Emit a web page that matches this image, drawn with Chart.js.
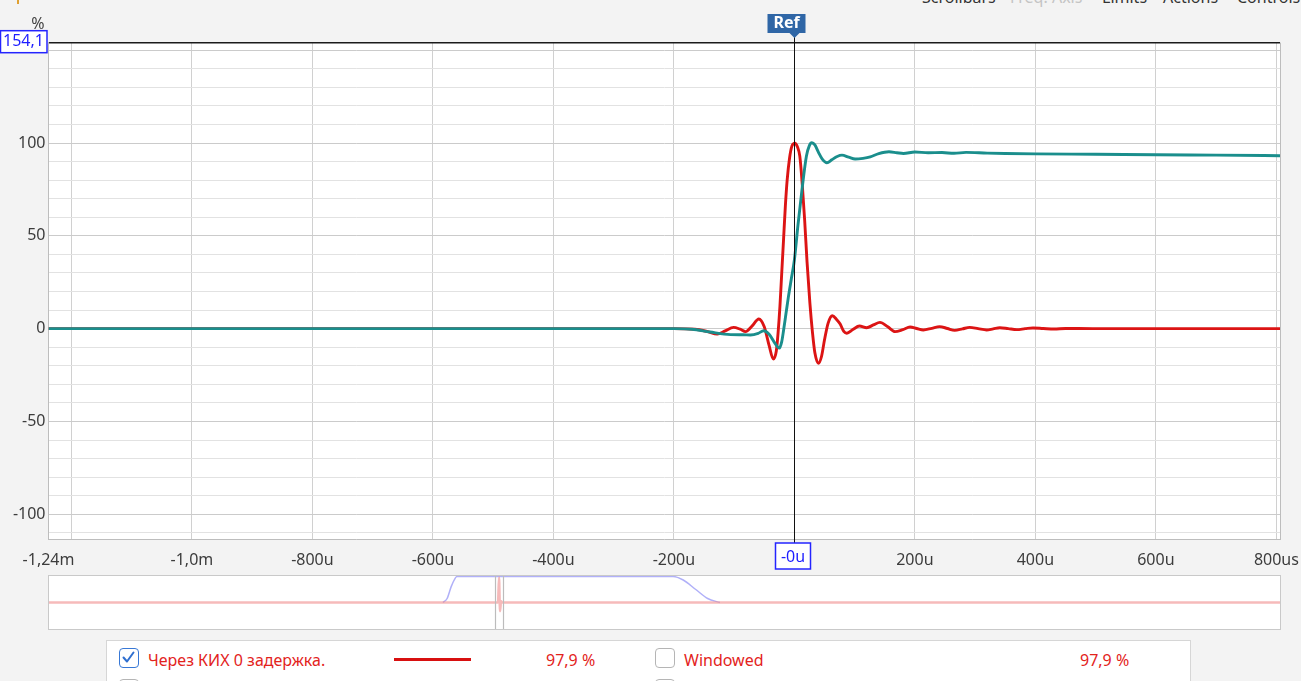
<!DOCTYPE html>
<html>
<head>
<meta charset="utf-8">
<script src="https://cdn.jsdelivr.net/npm/chart.js@4.4.1/dist/chart.umd.min.js"></script>
<style>
  body { margin: 0; width: 1301px; height: 681px; overflow: hidden; position: relative;
         background: #f3f3f3; font-family: "Noto Sans", sans-serif; }
  #menu span { position: absolute; top: -11px; font-size: 16px; line-height: 16px; color: #333; white-space: nowrap; }
  #wrap { position: absolute; left: 0; top: 0; width: 1301px; height: 681px; }
  #ov { position: absolute; left: 48px; top: 575px; width: 1233px; height: 55px; box-sizing: border-box;
        border: 1px solid #c9c9c9; background: #fff; }
  #legend { position: absolute; left: 106px; top: 640px; width: 1085px; height: 60px; box-sizing: border-box;
            border: 1px solid #d6d6d6; background: #fff; }
  #legend .t { position: absolute; font-size: 16px; line-height: 20px; color: #e3231c; white-space: nowrap; }
  .cb { position: absolute; width: 20px; height: 20px; box-sizing: border-box; border-radius: 4px;
        border: 1.5px solid #b5b5b5; background: #fff; }
  .cb.on { border-color: #3878d6; }
</style>
</head>
<body>
<div id="menu">
  <span style="left:922px">Scrollbars</span>
  <span style="left:1010px;color:#c4c4c4">Freq. Axis</span>
  <span style="left:1102px">Limits</span>
  <span style="left:1163px">Actions</span>
  <span style="left:1237px">Controls</span>
</div>
<div style="position:absolute;left:17px;top:0;width:2px;height:4px;background:#e0a030"></div>
<div id="wrap"><canvas id="main" width="1301" height="681"></canvas></div>
<div id="ov"><canvas id="ovc" width="1231" height="53"></canvas></div>
<div id="legend">
  <div class="cb on" style="left:12px;top:7px">
    <svg width="17" height="17" viewBox="0 0 17 17" style="position:absolute;left:0;top:0">
      <path d="M3.5 8.5 L7 12.5 L13.5 3.5" fill="none" stroke="#2f6fd0" stroke-width="2" stroke-linecap="round" stroke-linejoin="round"/>
    </svg>
  </div>
  <div class="t" style="left:41px;top:9px">Через КИХ 0 задержка.</div>
  <div style="position:absolute;left:287px;top:17px;width:77px;height:3px;background:#d81010"></div>
  <div class="t" style="left:439px;top:9px">97,9 %</div>
  <div class="cb" style="left:548px;top:7px"></div>
  <div class="t" style="left:577px;top:9px">Windowed</div>
  <div class="t" style="left:973px;top:9px">97,9 %</div>
  <div class="cb" style="left:12px;top:38px"></div>
  <div class="cb" style="left:548px;top:38px"></div>
</div>
<script>
// Impulse response (red), time in microseconds, level in %
const impulseTime = [-1238, -600, -300, -200, -165, -145, -128, -115, -101, -90, -81, -70, -59, -50, -42,
  -35, -30, -27, -24, -21, -18, -15, -12, -8, -4, 1, 5, 9, 13, 17, 21, 25.7, 30, 34, 40, 45, 50, 56, 63,
  70, 76, 82, 87, 97, 108, 120, 131, 142, 155, 167, 180, 192, 203, 214, 228, 241, 254, 266, 279, 291,
  305, 319, 330, 341, 355, 369, 383, 396, 413, 431, 450, 470, 520, 806];
const impulseLevel = [0, 0, 0, 0, -0.3, -1.5, -2.9, -1.2, 0.7, -0.3, -1.6, 1.5, 5.2, 1.0, -9,
  -16.4, -12, -2, 12, 30, 48, 66, 80, 92, 98.5, 100, 98, 93, 78, 58.7, 36, 13.9, -2, -13, -18.7, -15, -6, 3, 7,
  5, 2.5, -1.5, -2.5, -0.5, 1.4, 0.5, 2, 3.4, 1, -1.6, -0.5, 0.9, 0.1, -0.7, 0.2, 1.1, 0.1, -0.9, -0.1, 0.7,
  0, -0.7, -0.1, 0.5, 0, -0.5, 0, 0.4, 0.1, -0.2, 0.1, 0.1, 0, 0];

// Step response (teal)
const stepTime = [-1238, -600, -300, -200, -170, -140, -106, -85, -73, -60, -51, -42, -33, -25, -21, -18,
  -14, -10, -5, 0, 6, 13, 20, 25, 29, 34, 40, 46, 54, 62, 71, 79, 90, 101, 114, 126, 140, 157, 170, 181,
  200, 222, 245, 265, 285, 320, 350, 400, 500, 600, 700, 806];
const stepLevel = [0, 0, 0, 0, -0.3, -1.8, -3.2, -3.3, -3.4, -2.5, -1.1, -3, -7.5, -10.5, -7, -1,
  8, 17, 27, 37, 56, 76, 93, 98.8, 100.2, 99, 95, 91.5, 89.4, 91, 92.8, 93.5, 92.4, 91.4, 91.8, 92.6, 94.3, 95.3, 94.8, 94.4,
  95.2, 94.8, 94.9, 94.5, 95.0, 94.6, 94.4, 94.2, 94.0, 93.7, 93.5, 93.2];

// Axis ticks
const xTickValues = [-1238, -1200, -1000, -800, -600, -400, -200, 0, 200, 400, 600, 800];
const xTickLabels = ["-1,24m", "", "-1,0m", "-800u", "-600u", "-400u", "-200u", "", "200u", "400u", "600u", "800us"];
const yTickValues = [-110, -100, -90, -80, -70, -60, -50, -40, -30, -20, -10, 0, 10, 20, 30, 40, 50, 60, 70, 80,
  90, 100, 110, 120, 130, 140, 150, 154.1];
const yTickLabels = ["", "-100", "", "", "", "", "-50", "", "", "", "", "0", "", "", "", "", "50", "", "", "",
  "", "100", "", "", "", "", "", ""];
const xMin = -1238, xMax = 806, yMin = -113.5, yMax = 154.1;
const refTime = 0;

// Overview strip (ms)
const ovWindowTime = [-14, -13, -12, -11, -10.6, 42.5, 45, 48, 51, 54];
const ovWindowLevel = [0, 0.15, 0.6, 0.92, 0.98, 0.98, 0.85, 0.5, 0.15, 0];
const ovImpulseTime = [-110.8, -1.0, -0.5, -0.25, 0, 0.25, 0.5, 1.0, 191.6];
const ovImpulseLevel = [0, 0, 0, 0.94, -0.33, 0.05, 0, 0, 0];

const font16 = { family: "Noto Sans", size: 16 };
const toPoints = (xs, ys) => xs.map((x, i) => ({ x: x, y: ys[i] }));

const refPlugin = {
  id: "refMarker",
  beforeDraw(chart) {
    const { ctx, chartArea: a } = chart;
    ctx.save();
    ctx.fillStyle = "#fff";
    ctx.fillRect(a.left, a.top, a.right - a.left, a.bottom - a.top);
    ctx.restore();
  },
  afterDraw(chart) {
    const { ctx, chartArea: a, scales } = chart;
    ctx.save();
    // right frame
    ctx.strokeStyle = "#bdbdbd";
    ctx.lineWidth = 1;
    ctx.beginPath();
    ctx.moveTo(a.right + 0.5, a.top);
    ctx.lineTo(a.right + 0.5, a.bottom);
    ctx.stroke();

    // ref line
    const rx = Math.round(scales.x.getPixelForValue(refTime)) + 0.5;
    ctx.strokeStyle = "#111";
    ctx.beginPath();
    ctx.moveTo(rx, 36);
    ctx.lineTo(rx, 544);
    ctx.stroke();

    // Ref flag
    ctx.fillStyle = "#2f66a6";
    ctx.fillRect(rx - 27, 14, 38, 19);
    ctx.beginPath();
    ctx.moveTo(rx - 5, 33);
    ctx.lineTo(rx + 5, 33);
    ctx.lineTo(rx, 38);
    ctx.closePath();
    ctx.fill();
    ctx.fillStyle = "#fff";
    ctx.font = "bold 16px 'Noto Sans'";
    ctx.textAlign = "center";
    ctx.textBaseline = "middle";
    ctx.fillText("Ref", rx - 8, 23.5);

    // -0u box on the x axis
    ctx.fillStyle = "#fff";
    ctx.fillRect(rx - 19, 543, 35, 26);
    ctx.strokeStyle = "#2424ff";
    ctx.lineWidth = 1.5;
    ctx.strokeRect(rx - 19, 543, 35, 26);
    ctx.fillStyle = "#1d1dff";
    ctx.font = "16px 'Noto Sans'";
    ctx.fillText("-0u", rx - 1.5, 557);

    // max value box on the y axis
    const ty = scales.y.getPixelForValue(yMax);
    ctx.fillStyle = "#fff";
    ctx.fillRect(0.5, ty - 12, 46.5, 22);
    ctx.strokeRect(0.5, ty - 12, 46.5, 22);
    ctx.fillStyle = "#1d1dff";
    ctx.fillText("154,1", 23.5, ty - 1);

    // unit
    ctx.fillStyle = "#444";
    ctx.fillText("%", 38, 24);
    ctx.restore();
  }
};

new Chart(document.getElementById("main"), {
  type: "line",
  data: {
    datasets: [
      {
        data: toPoints(stepTime, stepLevel),
        borderColor: "#1a8e8c",
        borderWidth: 2.9,
        pointRadius: 0,
        cubicInterpolationMode: "monotone",
      },
      {
        data: toPoints(impulseTime, impulseLevel),
        borderColor: "#dc1414",
        borderWidth: 2.9,
        pointRadius: 0,
        cubicInterpolationMode: "monotone",
      },
    ],
  },
  options: {
    responsive: false,
    animation: false,
    layout: { padding: { top: 42.7, right: 21, bottom: 0, left: 0 } },
    plugins: { legend: { display: false }, tooltip: { enabled: false } },
    scales: {
      x: {
        type: "linear",
        min: xMin,
        max: xMax,
        afterBuildTicks: (s) => { s.ticks = xTickValues.map((v) => ({ value: v })); },
        afterFit: (s) => { s.height = 141.7; s.paddingLeft = 0; s.paddingRight = 0; },
        ticks: {
          autoSkip: false, maxRotation: 0, minRotation: 0, padding: 12,
          color: "#3c3c3c", font: font16,
          callback: (v, i) => xTickLabels[i],
        },
        grid: {
          drawTicks: false,
          color: (c) => (c.tick && c.tick.value === xMin ? "rgba(0,0,0,0)" : "#d0d0d0"),
        },
        border: { color: "#bdbdbd" },
      },
      y: {
        type: "linear",
        min: yMin,
        max: yMax,
        afterBuildTicks: (s) => { s.ticks = yTickValues.map((v) => ({ value: v })); },
        afterFit: (s) => { s.width = 48.5; s.paddingTop = 0; s.paddingBottom = 0; },
        ticks: {
          autoSkip: false, padding: 3, color: "#3c3c3c", font: font16,
          callback: (v, i) => yTickLabels[i],
        },
        grid: {
          drawTicks: false,
          color: (c) => {
            const v = c.tick ? c.tick.value : 0;
            if (v === yMax) return "#1a1a1a";
            return v % 50 === 0 ? "#cbcbcb" : "#e2e2e2";
          },
          lineWidth: (c) => (c.tick && c.tick.value === yMax ? 1.5 : 1),
        },
        border: { color: "#bdbdbd" },
      },
    },
  },
  plugins: [refPlugin],
});

// overview strip
const viewPlugin = {
  id: "viewLimits",
  afterDatasetsDraw(chart) {
    const { ctx, chartArea: a, scales } = chart;
    ctx.save();
    ctx.strokeStyle = "#bcbcbc";
    ctx.lineWidth = 1.2;
    [xMin / 1000, xMax / 1000].forEach((t) => {
      const px = Math.round(scales.x.getPixelForValue(t)) + 0.5;
      ctx.beginPath();
      ctx.moveTo(px, a.top);
      ctx.lineTo(px, a.bottom);
      ctx.stroke();
    });
    ctx.restore();
  }
};

new Chart(document.getElementById("ovc"), {
  type: "line",
  data: {
    datasets: [
      {
        data: toPoints(ovImpulseTime, ovImpulseLevel),
        borderColor: "rgba(240,140,140,0.6)",
        borderWidth: 2.5,
        pointRadius: 0,
        cubicInterpolationMode: "monotone",
      },
      {
        data: toPoints(ovWindowTime, ovWindowLevel),
        borderColor: "rgba(150,150,245,0.75)",
        borderWidth: 1.5,
        pointRadius: 0,
        cubicInterpolationMode: "monotone",
      },
    ],
  },
  options: {
    responsive: false,
    animation: false,
    layout: { padding: 0 },
    plugins: { legend: { display: false }, tooltip: { enabled: false } },
    scales: {
      x: { type: "linear", display: false, min: -110.8, max: 191.6 },
      y: { display: false, min: -1, max: 1 },
    },
  },
  plugins: [viewPlugin],
});
</script>
</body>
</html>
